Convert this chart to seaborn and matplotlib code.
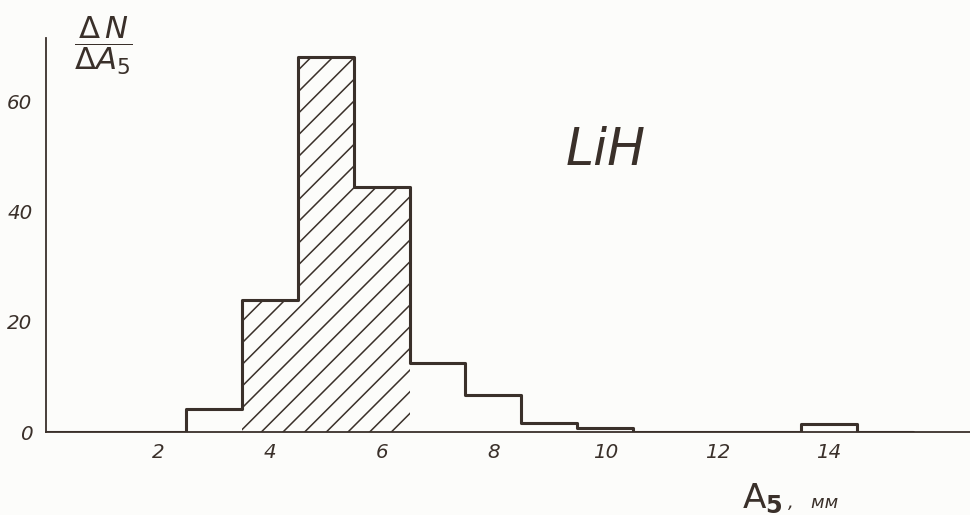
import numpy as np
import pandas as pd
import matplotlib
matplotlib.use("Agg")
import matplotlib.pyplot as plt
import seaborn as sns

# ---- data ----
bin_edges = [0, 2.5, 3.5, 4.5, 5.5, 6.5, 7.5, 8.5, 9.5, 10.5, 11.5, 12.5, 13.5, 14.5, 15.5]
counts = [0, 4.2, 24, 68.2, 44.5, 12.5, 6.7, 1.6, 0.8, 0, 0, 0, 1.4, 0]
hatched = [False, False, True, True, True, False, False, False, False, False, False, False, False, False]
x_ticks = [2, 4, 6, 8, 10, 12, 14]
y_ticks = [0, 20, 40, 60]

centers = [(a + b) / 2 for a, b in zip(bin_edges[:-1], bin_edges[1:])]
df = pd.DataFrame({"A5": centers, "n": counts, "hatched": hatched})

INK = "#3a302a"
BG = "#fcfcfa"

sns.set_style("white")
plt.rcParams["font.family"] = ["DejaVu Sans"]
plt.rcParams["hatch.color"] = INK
plt.rcParams["hatch.linewidth"] = 0.85

DPI = 130
fig = plt.figure(figsize=(970 / DPI, 515 / DPI), dpi=DPI, facecolor=BG)
ax = fig.add_axes([46 / 970, 83 / 515, 924 / 970, (432 - 38) / 515])
ax.set_facecolor(BG)

# hatched region
sub = df[df["hatched"]]
hedges = bin_edges[2:6]
n_before = len(ax.collections)
sns.histplot(data=sub, x="A5", weights="n", bins=hedges, element="step",
             fill=True, color=INK, ax=ax)
for coll in ax.collections[n_before:]:
    coll.set_facecolor("none")
    coll.set_edgecolor(INK)
    coll.set_linewidth(0)
    coll.set_hatch("//")

# outline
sns.histplot(data=df, x="A5", weights="n", bins=bin_edges, element="step",
             fill=False, color=INK, linewidth=1.7, zorder=3, ax=ax)

ax.set_xlim(0, 16.52)
ax.set_ylim(0, 71.6)
ax.set_xticks(x_ticks)
ax.set_yticks(y_ticks)
ax.set_xticklabels([str(t) for t in x_ticks], fontsize=11, style="italic", color=INK)
ax.set_yticklabels([str(t) for t in y_ticks], fontsize=11, style="italic", color=INK)
ax.tick_params(axis="x", direction="in", length=5, width=1.0, color=INK, pad=6)
ax.tick_params(axis="y", direction="inout", length=7, width=1.0, color=INK, pad=4)
ax.set_xlabel("")
ax.set_ylabel("")
sns.despine(ax=ax)
for s in ("left", "bottom"):
    ax.spines[s].set_color(INK)
    ax.spines[s].set_linewidth(1.0)

ax.text(10.0, 51, "LiH", fontsize=28, style="italic", color=INK,
        ha="center", va="center")

fig.text(74 / 970, 1 - 46 / 515, r"$\dfrac{\Delta\,N}{\Delta A_5}$", fontsize=17,
         color=INK, ha="left", va="center")

fig.text(742 / 970, 1 - 508 / 515, r"$\mathsf{A}_{\mathbf{5}}$", fontsize=19,
         color=INK, ha="left", va="baseline")
fig.text(788 / 970, 1 - 508 / 515, ",   мм", fontsize=10, style="italic",
         color=INK, ha="left", va="baseline")

fig.savefig("out.png", dpi=DPI, facecolor=BG)
